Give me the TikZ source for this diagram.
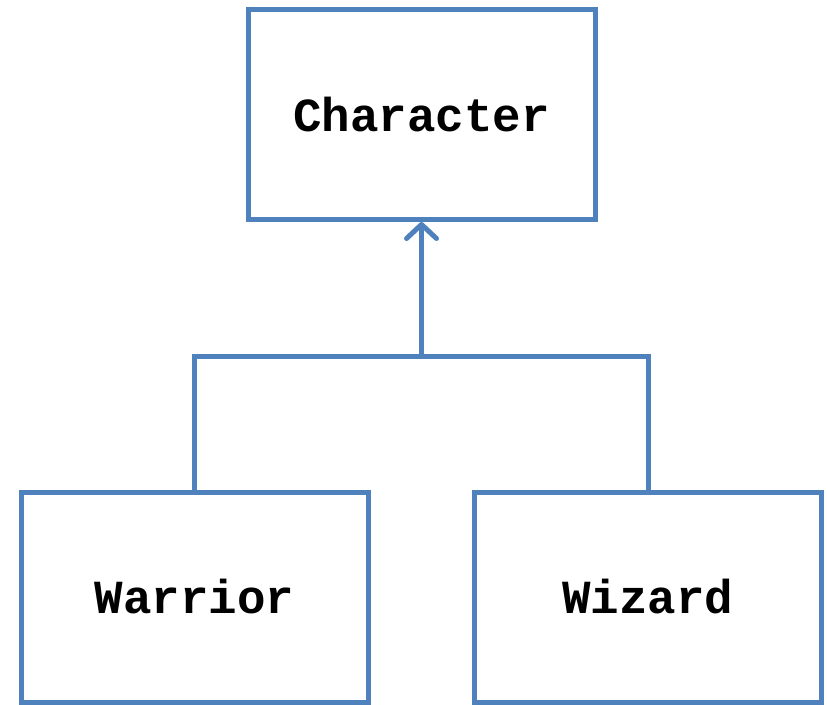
\documentclass[tikz,border=0pt]{standalone}
\usepackage{fontspec}
\setmonofont{Liberation Mono}
\usetikzlibrary{arrows.meta}
\definecolor{umlblue}{RGB}{79,129,189}
\tikzset{
  classbox/.style={draw=umlblue, line width=5pt, minimum width=347pt, minimum height=210pt,
    inner sep=0pt, font=\ttfamily\bfseries\fontsize{47.5}{52}\selectfont, text=black},
  conn/.style={draw=umlblue, line width=5pt},
}
\begin{document}
\begin{tikzpicture}[x=1pt,y=-1pt]
\useasboundingbox (0,0) rectangle (827,704);
\node[classbox] (character) at (421.5,114.5) {Character};
\node[classbox] (warrior) at (194.5,597) {Warrior};
\node[classbox] (wizard) at (648,597) {Wizard};
\coordinate (join) at (421.5,356);
\draw[conn] (warrior.north) |- (join) -| (wizard.north);
\draw[conn, -{Straight Barb[length=14pt,width=30pt,round]}] (join) -- (character.south);
\end{tikzpicture}
\end{document}
